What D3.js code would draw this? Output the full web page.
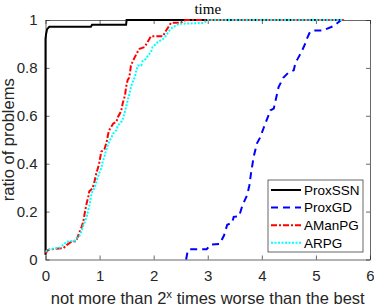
<!DOCTYPE html>
<html>
<head>
<meta charset="utf-8">
<script src="https://cdn.jsdelivr.net/npm/d3@7"></script>
<style>
  body { margin: 0; background: #fff; }
  svg { display: block; }
  .tick text { font-family: "Liberation Sans", Arial, sans-serif; fill: #262626; }
</style>
</head>
<body>
<div id="chart"></div>
<script>
// performance profile values: [x, ratio]
var proxSSN = [[0, 0.02], [0, 0.92], [0.01, 0.94], [0.03, 0.962], [0.07, 0.972], [0.84, 0.972], [0.86, 0.98], [1.49, 0.98], [1.5, 1.0], [5.52, 1.0]];
var proxGD = [[2.6, 0.0], [2.63, 0.037], [2.66, 0.043], [2.98, 0.043], [3.05, 0.062], [3.22, 0.065], [3.3, 0.1], [3.36, 0.145], [3.45, 0.153], [3.48, 0.178], [3.58, 0.181], [3.64, 0.225], [3.73, 0.27], [3.77, 0.31], [3.8, 0.36], [3.85, 0.43], [3.91, 0.485], [3.97, 0.51], [4.03, 0.547], [4.1, 0.588], [4.16, 0.623], [4.22, 0.63], [4.28, 0.69], [4.31, 0.72], [4.4, 0.76], [4.49, 0.78], [4.59, 0.79], [4.62, 0.82], [4.68, 0.845], [4.74, 0.87], [4.8, 0.9], [4.83, 0.92], [4.89, 0.95], [4.95, 0.956], [5.14, 0.956], [5.2, 0.963], [5.35, 0.977], [5.41, 0.99], [5.47, 1.0], [5.52, 1.0]];
var aManPG = [[0, 0.026], [0.05, 0.04], [0.1, 0.043], [0.33, 0.047], [0.39, 0.06], [0.48, 0.074], [0.55, 0.076], [0.58, 0.085], [0.62, 0.11], [0.67, 0.137], [0.7, 0.16], [0.73, 0.2], [0.76, 0.234], [0.79, 0.26], [0.81, 0.285], [0.87, 0.297], [0.9, 0.32], [0.94, 0.36], [0.98, 0.39], [1.0, 0.41], [1.03, 0.45], [1.09, 0.46], [1.13, 0.49], [1.16, 0.526], [1.19, 0.545], [1.25, 0.567], [1.31, 0.575], [1.34, 0.595], [1.4, 0.62], [1.43, 0.655], [1.47, 0.685], [1.49, 0.72], [1.52, 0.75], [1.55, 0.76], [1.58, 0.81], [1.64, 0.84], [1.7, 0.866], [1.74, 0.88], [1.83, 0.887], [1.88, 0.905], [1.95, 0.932], [2.17, 0.932], [2.23, 0.956], [2.27, 0.97], [2.32, 0.988], [2.5, 0.988], [2.56, 0.998], [2.6, 1.0], [5.52, 1.0]];
var aRPG = [[0, 0.033], [0.08, 0.043], [0.27, 0.05], [0.39, 0.074], [0.54, 0.078], [0.57, 0.088], [0.63, 0.1], [0.67, 0.12], [0.69, 0.137], [0.73, 0.158], [0.76, 0.178], [0.79, 0.206], [0.82, 0.234], [0.85, 0.276], [0.88, 0.29], [0.91, 0.3], [0.94, 0.324], [0.97, 0.345], [1.0, 0.365], [1.03, 0.38], [1.06, 0.41], [1.09, 0.43], [1.12, 0.456], [1.15, 0.477], [1.19, 0.498], [1.22, 0.51], [1.25, 0.526], [1.31, 0.54], [1.34, 0.56], [1.4, 0.574], [1.43, 0.588], [1.46, 0.61], [1.49, 0.637], [1.52, 0.665], [1.55, 0.69], [1.58, 0.72], [1.61, 0.74], [1.65, 0.76], [1.68, 0.79], [1.71, 0.81], [1.77, 0.81], [1.8, 0.83], [1.86, 0.838], [1.89, 0.85], [1.95, 0.866], [1.98, 0.887], [2.04, 0.9], [2.07, 0.907], [2.17, 0.92], [2.23, 0.935], [2.29, 0.956], [2.35, 0.97], [2.41, 0.977], [2.47, 0.984], [2.93, 0.988], [2.97, 0.995], [3.0, 1.0], [5.52, 1.0]];

var seriesNames = ["ProxSSN", "ProxGD", "AManPG", "ARPG"];
var xTicks = [0, 1, 2, 3, 4, 5, 6];
var yTicks = [0, 0.2, 0.4, 0.6, 0.8, 1];

var width = 374;
var height = 306;
var plotLeft = 45.5, plotRight = 370, plotTop = 20, plotBottom = 259.5;

var svg = d3.select("#chart")
    .append("svg")
    .attr("width", width)
    .attr("height", height);

var x = d3.scaleLinear().domain([0, 6]).range([plotLeft, plotRight]);
var y = d3.scaleLinear().domain([0, 1]).range([plotBottom, plotTop]);

// axes box, ticks inside like matlab
function styleAxis(g) {
    g.select(".domain").attr("stroke", "#262626").attr("stroke-width", 0.7);
    g.selectAll(".tick line").attr("stroke", "#262626").attr("stroke-width", 0.7);
}

svg.append("g")
    .attr("transform", "translate(0," + plotBottom + ")")
    .call(d3.axisBottom(x).tickValues(xTicks).tickSizeInner(-4).tickSizeOuter(0).tickPadding(11).tickFormat(d3.format("d")))
    .call(styleAxis)
    .selectAll("text").style("font-size", "15px");

svg.append("g")
    .attr("transform", "translate(0," + plotTop + ")")
    .call(d3.axisTop(x).tickValues(xTicks).tickSizeInner(-4).tickSizeOuter(0).tickFormat(""))
    .call(styleAxis);

svg.append("g")
    .attr("transform", "translate(" + plotLeft + ",0)")
    .call(d3.axisLeft(y).tickValues(yTicks).tickSizeInner(-4).tickSizeOuter(0).tickPadding(8).tickFormat(function (d) { return d === 0 || d === 1 ? d3.format("d")(d) : d3.format(".1f")(d); }))
    .call(styleAxis)
    .selectAll("text").style("font-size", "15px");

svg.append("g")
    .attr("transform", "translate(" + plotRight + ",0)")
    .call(d3.axisRight(y).tickValues(yTicks).tickSizeInner(-4).tickSizeOuter(0).tickFormat(""))
    .call(styleAxis);

// curves
var line = d3.line()
    .x(function (d) { return x(d[0]); })
    .y(function (d) { return y(d[1]); });

var styles = [
    { data: proxSSN, color: "#000000", dash: null },
    { data: proxGD, color: "#0000ff", dash: "7,5" },
    { data: aManPG, color: "#ff0000", dash: "6,2,2,2" },
    { data: aRPG, color: "#00ffff", dash: "2,1.5" }
];

styles.forEach(function (s) {
    svg.append("path")
        .datum(s.data)
        .attr("fill", "none")
        .attr("stroke", s.color)
        .attr("stroke-width", 2)
        .attr("stroke-dasharray", s.dash)
        .attr("d", line);
});

// title
svg.append("text")
    .attr("x", (plotLeft + plotRight) / 2)
    .attr("y", 13.5)
    .attr("text-anchor", "middle")
    .style("font-family", "'Liberation Serif', 'DejaVu Serif', serif")
    .style("font-size", "15px")
    .attr("fill", "#000")
    .text("time");

// x label
var xLabel = svg.append("text")
    .attr("x", (plotLeft + plotRight) / 2)
    .attr("y", 304)
    .attr("text-anchor", "middle")
    .style("font-family", "'Liberation Sans', Arial, sans-serif")
    .style("font-size", "16.5px")
    .attr("fill", "#262626");
xLabel.append("tspan").text("not more than 2");
xLabel.append("tspan").attr("dy", -6).style("font-size", "11.5px").text("x");
xLabel.append("tspan").attr("dy", 6).text(" times worse than the best");

// y label
svg.append("text")
    .attr("transform", "translate(14," + (plotTop + plotBottom) / 2 + ")rotate(-90)")
    .attr("text-anchor", "middle")
    .style("font-family", "'Liberation Sans', Arial, sans-serif")
    .style("font-size", "16.5px")
    .attr("fill", "#262626")
    .text("ratio of problems");

// legend
var legend = svg.append("g");
legend.append("rect")
    .attr("x", 268).attr("y", 180)
    .attr("width", 95).attr("height", 72)
    .attr("fill", "#fff")
    .attr("stroke", "#262626")
    .attr("stroke-width", 0.7);

styles.forEach(function (s, i) {
    var ry = 190 + i * 17.6;
    legend.append("line")
        .attr("x1", 271).attr("x2", 301)
        .attr("y1", ry).attr("y2", ry)
        .attr("stroke", s.color)
        .attr("stroke-width", 2)
        .attr("stroke-dasharray", s.dash);
    legend.append("text")
        .attr("x", 304).attr("y", ry + 4.8)
        .style("font-family", "'Liberation Sans', Arial, sans-serif")
        .style("font-size", "13.5px")
        .attr("fill", "#000")
        .text(seriesNames[i]);
});
</script>
</body>
</html>
